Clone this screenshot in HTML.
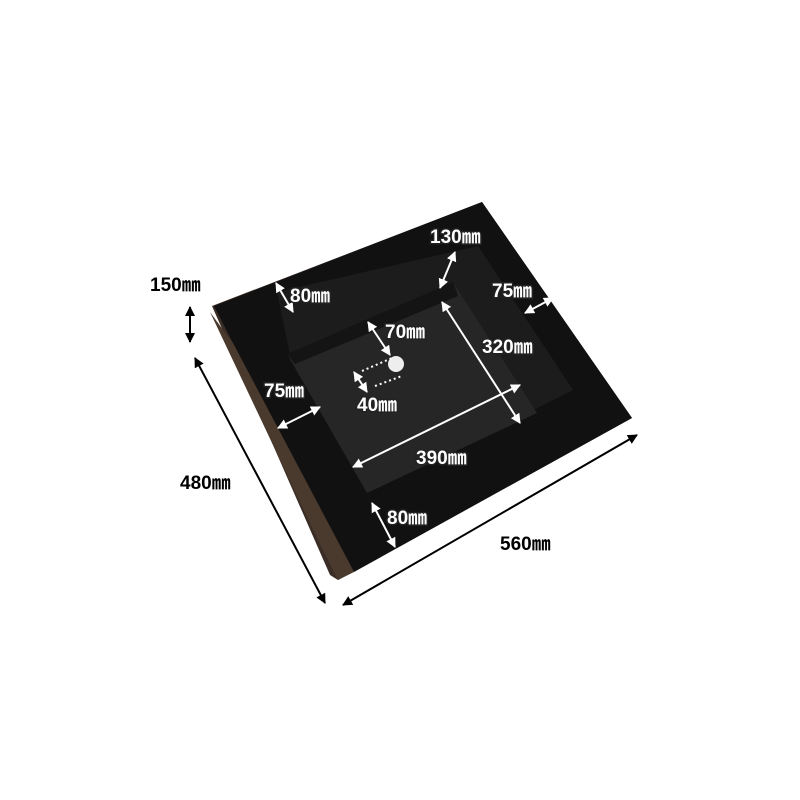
<!DOCTYPE html>
<html><head><style>
html,body{margin:0;padding:0;background:#fff}
svg{display:block}
text{font-family:"Liberation Sans","Noto Sans CJK JP",sans-serif;font-weight:bold;font-size:19px}
.w{fill:#fff;stroke:#222;stroke-width:3px;paint-order:stroke}
.b{fill:#000}
</style></head><body>
<svg width="800" height="800" viewBox="0 0 800 800">
<defs>
<marker id="aw" viewBox="0 0 10 10" refX="9" refY="5" markerWidth="5" markerHeight="5" orient="auto-start-reverse"><path d="M0,0L10,5L0,10z" fill="#fff"/></marker>
<marker id="ab" viewBox="0 0 10 10" refX="9" refY="5" markerWidth="5" markerHeight="5" orient="auto-start-reverse"><path d="M0,0L10,5L0,10z" fill="#000"/></marker>
</defs>
<polygon points="212,306 482,202 632,418 338,580 330,575" fill="#3a2d25"/>
<polygon points="214,306 482,202 632,418 354,572 234,345" fill="#111"/>
<polygon points="210,312 234,345 354,572 338,580 318,540" fill="#4a3a2e"/>
<polygon points="277,292 478,246 573,390 367,493 290,355" fill="#1c1c1c"/>
<polygon points="287,354 453,282 537,413 367,493" fill="#262626"/>
<polygon points="287,354 453,282 458,296 295,364" fill="#141414"/>
<circle cx="396" cy="364" r="8" fill="#eee"/>
<g stroke="#fff" stroke-width="2" marker-start="url(#aw)" marker-end="url(#aw)">
<line x1="455" y1="252" x2="440" y2="288"/>
<line x1="276" y1="283" x2="293" y2="312"/>
<line x1="525" y1="313" x2="553" y2="298"/>
<line x1="368" y1="322" x2="390" y2="355"/>
<line x1="354" y1="372" x2="367" y2="392"/>
<line x1="442" y1="302" x2="520" y2="423"/>
<line x1="278" y1="428" x2="320" y2="407"/>
<line x1="353" y1="467" x2="520" y2="385"/>
<line x1="372" y1="503" x2="395" y2="547"/>
</g>
<g stroke="#fff" stroke-width="2" stroke-dasharray="2,3">
<line x1="362" y1="371" x2="392" y2="358"/>
<line x1="375" y1="386" x2="402" y2="376"/>
</g>
<g stroke="#000" stroke-width="2" marker-start="url(#ab)" marker-end="url(#ab)">
<line x1="190" y1="307" x2="190" y2="342"/>
<line x1="195" y1="358" x2="325" y2="603"/>
<line x1="343" y1="605" x2="637" y2="435"/>
</g>
<text class="w" x="430" y="243">130㎜</text>
<text class="w" x="290" y="302">80㎜</text>
<text class="w" x="492" y="297">75㎜</text>
<text class="w" x="385" y="338">70㎜</text>
<text class="w" x="482" y="353">320㎜</text>
<text class="w" x="264" y="397">75㎜</text>
<text class="w" x="357" y="411">40㎜</text>
<text class="w" x="416" y="464">390㎜</text>
<text class="w" x="387" y="524">80㎜</text>
<text class="b" x="150" y="291">150㎜</text>
<text class="b" x="180" y="489">480㎜</text>
<text class="b" x="500" y="550">560㎜</text>
</svg>
</body></html>
